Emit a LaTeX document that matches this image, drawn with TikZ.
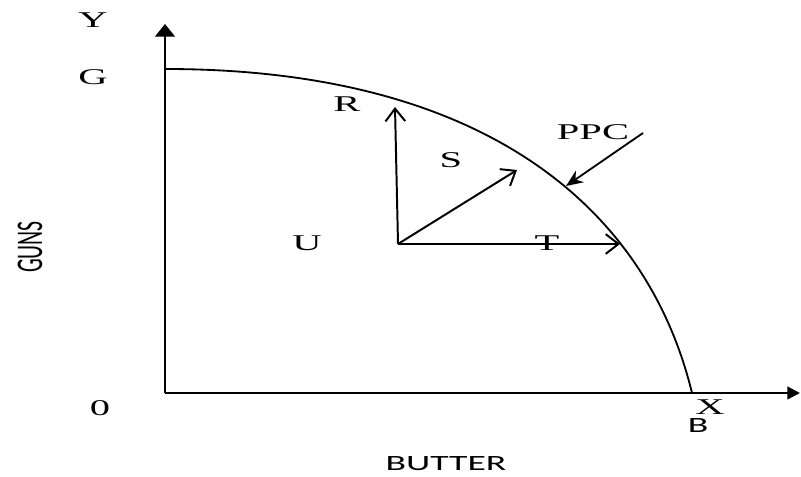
\documentclass[tikz,border=0pt]{standalone}
\usepackage{graphicx}
\usepackage{fontspec}
\setmainfont{Liberation Serif}
\newfontfamily\sansf{Carlito}
\usepackage{tikz}
\usetikzlibrary{arrows.meta}

% text in the reference is stretched sideways
\newcommand{\wtxt}[1]{\scalebox{1.8}[1]{#1}}
\newcommand{\wsans}[1]{\scalebox{1.73}[1]{\sansf #1}}

\tikzset{
	lbl/.style={font=\fontsize{16}{18}\selectfont, inner sep=0pt},
	slbl/.style={font=\fontsize{15.5}{17}\selectfont, inner sep=0pt},
	axis/.style={line width=1.8pt},
	vec/.style={line width=1.4pt, -{Straight Barb[length=9pt, width=14pt]}},
}

\begin{document}
\begin{tikzpicture}[x=0.025cm, y=-0.025cm]
		\useasboundingbox (0,0) rectangle (801,477);
		% Axes
		\coordinate (O) at (165,393);
		\coordinate (ytop) at (165,24);
		\coordinate (xend) at (800,393);
		\draw[axis, -{Triangle[length=9pt, width=14pt]}] (O) -- (ytop);
		\draw[axis, -{Triangle[length=9pt, width=9pt]}] (O) -- (xend);
		% Production possibility curve
		\coordinate (ppcG) at (165,69);
		\coordinate (ppcB) at (692,393);
		\draw[line width=1.3pt] (ppcG) .. controls (490,69) and (648,212) .. (ppcB);
		% Vectors from U
		\coordinate (u) at (398,244);
		\coordinate (rtip) at (395,107);
		\coordinate (stip) at (517,170);
		\coordinate (ttip) at (620,244);
		\draw[vec] (u) -- (rtip);
		\draw[vec] (u) -- (stip);
		\draw[vec] (u) -- (ttip);
		% PPC pointer
		\coordinate (pstart) at (643,133);
		\coordinate (pend) at (566,186);
		\draw[line width=1.3pt, -{Stealth[length=12pt, width=10pt]}] (pstart) -- (pend);
		% Labels
		\node[lbl] (Y) at (93,20) {\wtxt{Y}};
		\node[lbl] (G) at (93,77) {\wtxt{G}};
		\node[lbl] (R) at (347,104) {\wtxt{R}};
		\node[lbl] (S) at (451,160) {\wtxt{S}};
		\node[lbl] (PPC) at (593,132) {\wtxt{PPC}};
		\node[lbl] (U) at (307,243) {\wtxt{U}};
		\node[lbl] (T) at (547,243) {\wtxt{T}};
		\node[lbl] (X) at (710,407) {\wtxt{X}};
		\node[slbl] (B) at (698,426) {\wsans{B}};
		\node[lbl] (zero) at (100,408) {\wtxt{0}};
		\node[slbl] (guns) at (30,247) {\rotatebox{90}{\scalebox{1}[1.73]{\sansf GUNS}}};
		\node[slbl] (butter) at (446,464) {\wsans{BUTTER}};
	\end{tikzpicture}
\end{document}
